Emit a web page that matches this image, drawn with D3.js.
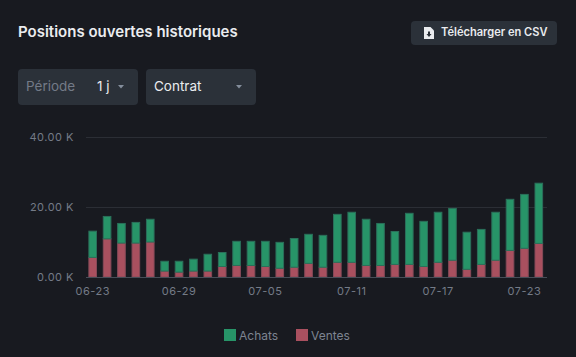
<!DOCTYPE html>
<html>
<head>
<meta charset="utf-8">
<script src="https://cdnjs.cloudflare.com/ajax/libs/d3/7.8.5/d3.min.js"></script>
<style>
  html, body { margin: 0; padding: 0; background: #181a20; overflow: hidden; }
  svg { display: block; }
  text { font-family: "Inter", "Noto Sans", sans-serif; }
</style>
</head>
<body>
<svg id="chart" width="576" height="357"></svg>
<script>
const days = ["06-23","06-24","06-25","06-26","06-27","06-28","06-29","06-30","07-01","07-02","07-03","07-04","07-05","07-06","07-07","07-08","07-09","07-10","07-11","07-12","07-13","07-14","07-15","07-16","07-17","07-18","07-19","07-20","07-21","07-22","07-23","07-24"]
const totals = [13.1,17.3,15.3,15.6,16.5,4.5,4.5,5.1,6.5,7.0,10.2,10.2,10.2,9.9,11.0,12.2,11.9,17.9,18.5,16.5,15.3,13.0,18.2,15.9,18.5,19.6,12.8,13.6,18.5,22.2,23.6,26.8]
const ventes = [5.6,10.9,9.7,9.7,10.0,1.7,1.4,1.7,1.7,3.0,3.3,3.3,3.0,2.5,2.8,3.9,2.8,4.2,4.2,3.3,3.3,3.6,3.6,3.0,4.2,4.8,2.2,3.6,4.8,7.6,8.2,9.6]
const achats = totals.map((t, i) => +(t - ventes[i]).toFixed(1))
const xTicks = ["06-23","06-29","07-05","07-11","07-17","07-23"]
const yTicks = [0, 20, 40]
const legendItems = ["Achats", "Ventes"]

const colors = { Achats: "#279468", Ventes: "#a9505f" }
const strokes = { Achats: "#2b6f5a", Ventes: "#864a58" }

const svg = d3.select("#chart")

// header
svg.append("text").attr("x", 18).attr("y", 37)
  .attr("fill", "#eaecef").attr("font-size", 15).attr("font-weight", 600)
  .text("Positions ouvertes historiques")

// csv button
const btn = svg.append("g")
btn.append("rect").attr("x", 411).attr("y", 21).attr("width", 146).attr("height", 24).attr("rx", 4).attr("fill", "#2b3139")
btn.append("path").attr("d", "M424 27h6.500l3.500 3.500v8.500h-10z").attr("fill", "#eaecef")
btn.append("path").attr("d", "M428 31.500h2v2.500h1.500l-2.500 3-2.500-3h1.500z").attr("fill", "#2b3139")
btn.append("text").attr("x", 441).attr("y", 36).attr("fill", "#eaecef")
  .attr("font-size", 11.1).attr("font-weight", 600).text("Télécharger en CSV")

// dropdowns
const arrow = (x, y, fill) => svg.append("path")
  .attr("d", `M${x} ${y}h6l-3 3.500z`).attr("fill", fill)

svg.append("rect").attr("x", 18).attr("y", 69).attr("width", 120).attr("height", 36).attr("rx", 4).attr("fill", "#2b3139")
svg.append("text").attr("x", 26).attr("y", 91).attr("fill", "#737a87").attr("font-size", 13.5).text("Période")
svg.append("text").attr("x", 97).attr("y", 91).attr("fill", "#eaecef").attr("font-size", 13.5).text("1 j")
arrow(118, 85, "#848e9c")

svg.append("rect").attr("x", 146).attr("y", 69).attr("width", 110).attr("height", 36).attr("rx", 4).attr("fill", "#2b3139")
svg.append("text").attr("x", 154).attr("y", 91).attr("fill", "#eaecef").attr("font-size", 13.5).text("Contrat")
arrow(236, 85, "#848e9c")

// chart
const margin = { top: 137, right: 29, bottom: 80, left: 86 }
const width = 576 - margin.left - margin.right
const height = 357 - margin.top - margin.bottom

const group = svg.append("g").attr("transform", `translate(${margin.left}, ${margin.top})`)

// band range stops a bit short of the axis end, the last bar sits off the right edge in the original
const xScale = d3.scaleBand().domain(days).range([0, width - 1.5]).paddingInner(0.47).paddingOuter(0.2)
const yScale = d3.scaleLinear().domain([0, 40]).range([height, 0])

const yAxis = group.append("g")
  .call(d3.axisLeft(yScale).tickValues(yTicks).tickSize(-width).tickPadding(12).tickFormat(d => d3.format(".2f")(d) + " K"))
yAxis.select(".domain").remove()
yAxis.selectAll("line").attr("stroke", "#2b2e35")
yAxis.selectAll("text").attr("fill", "#747b87").attr("font-size", 11).attr("letter-spacing", 0.5)

const stacked = d3.stack().keys(["Ventes", "Achats"])(days.map((d, i) => ({ day: d, Ventes: ventes[i], Achats: achats[i] })))

group.selectAll(".layer").data(stacked).enter().append("g")
  .attr("class", "layer")
  .attr("fill", d => colors[d.key])
  .attr("stroke", d => strokes[d.key])
  .selectAll("rect").data(d => d).enter().append("rect")
    .attr("x", d => xScale(d.data.day))
    .attr("y", d => yScale(d[1]))
    .attr("width", xScale.bandwidth())
    .attr("height", d => yScale(d[0]) - yScale(d[1]))

const xAxis = group.append("g").attr("transform", `translate(0, ${height})`)
  .call(d3.axisBottom(xScale).tickValues(xTicks).tickSize(0).tickPadding(10))
xAxis.select(".domain").attr("stroke", "#474d57").attr("d", `M0,0.5H${width}`)
xAxis.selectAll("text").attr("fill", "#747b87").attr("font-size", 11).attr("letter-spacing", 0.5)

// legend
const legendX = d3.scaleOrdinal().domain(legendItems).range([224, 296])
const legend = svg.append("g").selectAll("g").data(legendItems).enter().append("g")
  .attr("transform", d => `translate(${legendX(d)}, 329)`)
legend.append("rect").attr("width", 12).attr("height", 12).attr("fill", d => colors[d])
legend.append("text").attr("x", 15).attr("y", 11).attr("fill", "#7d8491").attr("font-size", 12).text(d => d)
</script>
</body>
</html>
